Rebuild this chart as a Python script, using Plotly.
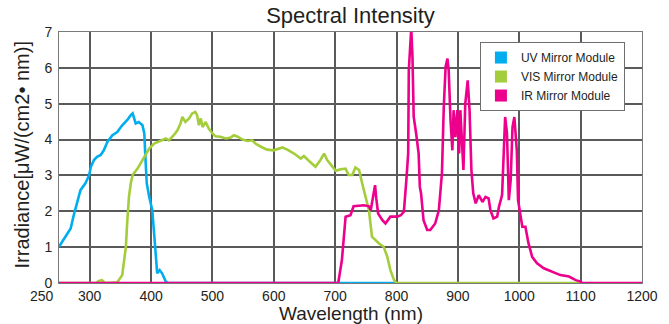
import plotly.graph_objects as go

# ---- data ----
series_names = ["UV Mirror Module", "VIS Mirror Module", "IR Mirror Module"]
series_colors = ["#00aeef", "#a3cd3a", "#ec008c"]

uv_nm = [250, 261, 269, 274, 280, 285, 293, 299, 302, 307, 312, 318, 323, 329, 337,
         345, 353, 361, 367, 370, 375, 380, 386, 389, 391, 393, 397, 402, 405, 408,
         410, 414, 418, 424, 428, 800]
uv_val = [1.01, 1.29, 1.52, 1.89, 2.26, 2.59, 2.78, 3.00, 3.24, 3.43, 3.52, 3.57, 3.70, 3.94, 4.12,
          4.21, 4.40, 4.54, 4.68, 4.73, 4.45, 4.49, 4.40, 4.17, 3.43, 2.78, 2.40, 2.03, 1.38, 0.55,
          0.27, 0.36, 0.27, 0.04, 0.0, 0.0]

vis_nm = [250, 310, 315, 320, 325, 345, 353, 356, 359, 361, 364, 367, 370, 378, 383,
          389, 397, 405, 416, 424, 429, 437, 443, 448, 451, 456, 462, 467, 472, 475,
          478, 481, 484, 489, 494, 500, 505, 513, 522, 530, 535, 541, 549, 557, 565,
          570, 579, 589, 600, 614, 622, 633, 644, 649, 657, 668, 676, 682, 687, 695,
          701, 709, 717, 722, 728, 733, 739, 744, 750, 755, 760, 771, 779, 785, 790,
          796, 800, 1100]
vis_val = [0.0, 0.0, 0.06, 0.08, 0.0, 0.02, 0.22, 0.55, 1.01, 1.66, 2.40, 2.78, 3.01, 3.19, 3.33,
           3.52, 3.75, 3.89, 3.98, 4.03, 3.98, 4.12, 4.26, 4.45, 4.63, 4.49, 4.59, 4.73, 4.77, 4.68,
           4.40, 4.59, 4.35, 4.49, 4.31, 4.17, 4.09, 4.08, 4.03, 4.06, 4.12, 4.08, 4.00, 3.96, 3.98,
           3.89, 3.80, 3.72, 3.70, 3.78, 3.72, 3.61, 3.47, 3.54, 3.41, 3.24, 3.43, 3.61, 3.43, 3.24,
           3.13, 3.17, 3.19, 3.01, 3.01, 3.22, 3.15, 2.78, 2.40, 2.03, 1.29, 1.11, 1.01, 0.73, 0.36,
           0.08, 0.0, 0.0]

ir_nm = [250, 705, 711, 714, 717, 725, 730, 747, 755, 758, 762, 765, 767, 770, 777,
         782, 790, 801, 807, 812, 816, 819, 820, 822, 824, 826, 828, 832, 836, 838,
         840, 844, 850, 855, 863, 869, 874, 877, 880, 883, 885, 888, 891, 893, 896,
         899, 902, 904, 909, 912, 916, 919, 922, 925, 929, 934, 940, 945, 950, 953,
         958, 964, 967, 972, 975, 977, 980, 983, 986, 989, 992, 996, 998, 1002, 1005,
         1010, 1015, 1021, 1029, 1040, 1054, 1067, 1081, 1092, 1100, 1102, 1200]
ir_val = [0.0, 0.0, 0.64, 1.38, 1.85, 1.89, 2.14, 2.17, 2.14, 2.03, 2.45, 2.73, 2.36, 1.94, 1.75,
          1.66, 1.85, 1.85, 1.89, 1.99, 2.87, 3.61, 5.93, 6.77, 7.10, 6.30, 4.63, 4.17, 3.61, 2.68,
          2.50, 1.75, 1.48, 1.48, 1.66, 2.03, 3.06, 4.91, 6.03, 6.26, 5.93, 4.54, 3.70, 4.82, 4.07,
          4.82, 3.61, 4.82, 3.15, 5.00, 5.65, 4.82, 3.15, 2.50, 2.22, 2.45, 2.26, 2.40, 2.36, 2.03,
          1.80, 1.85, 2.13, 2.45, 4.17, 4.63, 4.17, 2.31, 2.87, 4.35, 4.63, 3.70, 2.31, 1.85, 1.57,
          1.57, 1.11, 0.73, 0.55, 0.41, 0.31, 0.22, 0.18, 0.08, 0.04, 0.0, 0.0]

x_tick_vals = [300, 400, 500, 600, 700, 800, 900, 1000, 1100, 1200]
x_tick_text = ["300", "400", "500", "600", "700", "800", "900", "1000", "1100", "1200"]
x_first_label = "250"
y_tick_vals = [0, 1, 2, 3, 4, 5, 6, 7]

chart_title = "Spectral Intensity"
x_title = "Wavelength (nm)"
y_title = "Irradiance[μW/(cm2• nm)]"

FONT = "Liberation Sans, Arial, sans-serif"
TXT = "#231f20"
GRID = "#5a5a5a"

fig = go.Figure()
for xs, ys, c in zip([uv_nm, vis_nm, ir_nm], [uv_val, vis_val, ir_val], series_colors):
    fig.add_trace(go.Scatter(x=xs, y=ys, mode="lines", line=dict(color=c, width=2.6),
                             showlegend=False, hoverinfo="skip"))
# legend proxies (filled rectangles, as in the reference legend)
for n, c in zip(series_names, series_colors):
    fig.add_trace(go.Bar(x=[None], y=[None], name=n, marker=dict(color=c, line=dict(width=0))))

fig.update_layout(
    width=669, height=324,
    margin=dict(l=59, r=27, t=32, b=41, autoexpand=False),
    paper_bgcolor="white", plot_bgcolor="white",
    font=dict(family=FONT, color=TXT, size=14),
    title=dict(text=chart_title, x=0.5, xref="paper", y=1 - 15 / 324, yref="container",
               yanchor="middle", xanchor="center", font=dict(size=22, color=TXT)),
    legend=dict(x=0.722, y=0.96, xanchor="left", yanchor="top", bgcolor="white",
                bordercolor="#6f6f6f", borderwidth=1, font=dict(size=12, color=TXT),
                itemwidth=30, tracegroupgap=0),
    showlegend=True,
)
fig.update_xaxes(range=[250, 1200], tickvals=x_tick_vals, ticktext=x_tick_text,
                 showgrid=True, gridcolor=GRID, gridwidth=2, automargin=False,
                 showline=True, linecolor="#7a7a7a", linewidth=1, mirror=True,
                 zeroline=False, ticks="", layer="below traces",
                 tickfont=dict(size=14, color=TXT))
fig.update_yaxes(range=[0, 7], tickvals=y_tick_vals,
                 showgrid=True, gridcolor=GRID, gridwidth=2, automargin=False,
                 showline=True, linecolor="#7a7a7a", linewidth=1, mirror=True,
                 zeroline=False, ticks="", layer="below traces", ticklabelstandoff=3,
                 tickfont=dict(size=14, color=TXT))
fig.add_annotation(x=x_tick_vals[0] - 50, y=0, xref="x", yref="y", text=x_first_label,
                   showarrow=False, xanchor="center", yanchor="top", xshift=-17, yshift=-3,
                   font=dict(size=14, color=TXT))
fig.add_annotation(x=0.5, y=-30 / 251, xref="paper", yref="paper", text=x_title,
                   showarrow=False, xanchor="center", yanchor="middle",
                   font=dict(size=19, color=TXT))
fig.add_annotation(x=-37 / 583, y=0.508, xref="paper", yref="paper", text=y_title,
                   showarrow=False, xanchor="center", yanchor="middle", textangle=-90,
                   font=dict(size=20, color=TXT))
fig.write_html("out.html", config={"displayModeBar": False},
               post_script="document.body.style.margin='0';document.body.style.padding='0';")
